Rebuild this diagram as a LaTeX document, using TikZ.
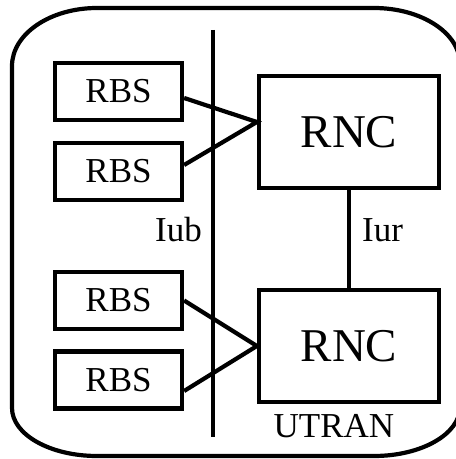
\documentclass[tikz,border=0pt]{standalone}
\usepackage{fontspec}
\setmainfont{Liberation Serif}
\begin{document}
\begin{tikzpicture}[x=1pt,y=1pt,
  lw/.style={line width=4.2pt},
  rbsbox/.style={draw,lw,minimum width=127pt,minimum height=57pt,inner sep=0pt,font=\fontsize{35}{40}\selectfont},
  rncbox/.style={draw,lw,minimum width=180pt,minimum height=112pt,inner sep=0pt,font=\fontsize{47}{52}\selectfont},
  lbl/.style={anchor=base,inner sep=0pt,font=\fontsize{35}{40}\selectfont},
  conn/.style={lw}]
\useasboundingbox (0,0) rectangle (456,459);
\begin{scope}
\clip (0,0) rectangle (456,459);
\draw[lw] (97,451) -- (374,451)
  arc[start angle=90,end angle=0,x radius=86,y radius=56] -- (460,52)
  arc[start angle=0,end angle=-90,x radius=86,y radius=49] -- (97,3)
  arc[start angle=270,end angle=180,x radius=85,y radius=48] -- (12,393)
  arc[start angle=180,end angle=90,x radius=85,y radius=58] -- cycle;
\end{scope}
\coordinate (vtop) at (213,429);
\coordinate (vbot) at (213,22);
\draw[lw] (vtop) -- (vbot);
\node[rbsbox] (rbs1) at (118.5,367.5) {RBS};
\node[rbsbox] (rbs2) at (118.5,287.5) {RBS};
\node[rbsbox] (rbs3) at (118.5,158.5) {RBS};
\node[rbsbox] (rbs4) at (118.5,79) {RBS};
\node[rncbox] (rnc1) at (349,327) {RNC};
\node[rncbox] (rnc2) at (349,113) {RNC};
\draw[conn] ([yshift=-6.5pt]rbs1.east) -- ([yshift=10pt]rnc1.west) -- ([yshift=6.5pt]rbs2.east);
\draw[conn] (rbs3.east) -- (rnc2.west) -- ([yshift=-11pt]rbs4.east);
\draw[conn] (rnc1.south) -- (rnc2.north);
\node[lbl] (iub) at (178.5,217) {Iub};
\node[lbl] (iur) at (382.5,217) {Iur};
\node[lbl] (utran) at (334,22) {UTRAN};
\end{tikzpicture}
\end{document}
